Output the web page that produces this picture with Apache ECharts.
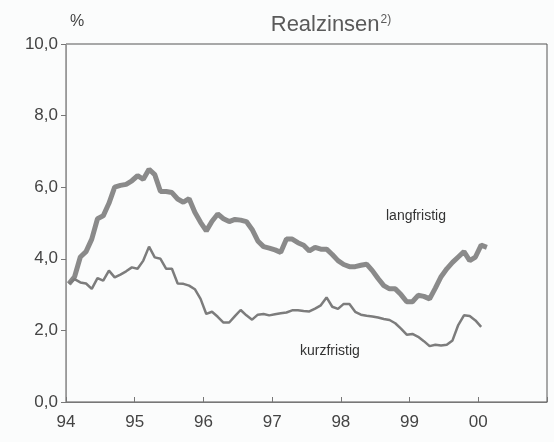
<!DOCTYPE html>
<html>
<head>
<meta charset="utf-8">
<script src="https://cdn.jsdelivr.net/npm/echarts@6/dist/echarts.min.js"></script>
<style>
  html, body { margin: 0; padding: 0; background: #fbfcfc; }
  #chart { width: 554px; height: 442px; }
</style>
</head>
<body>
<div id="chart"></div>
<script>
// monthly values, Jan 1994 onwards
var startYear = 1994
var yearTicks = ['94', '95', '96', '97', '98', '99', '00']
var langfristig = [
  3.30, 3.50, 4.05, 4.20, 4.55, 5.12, 5.20, 5.55, 6.00, 6.05, 6.08, 6.18,
  6.32, 6.22, 6.50, 6.35, 5.88, 5.88, 5.85, 5.67, 5.58, 5.68, 5.30, 5.02,
  4.78, 5.05, 5.25, 5.12, 5.04, 5.10, 5.08, 5.04, 4.82, 4.50, 4.34, 4.30,
  4.25, 4.18, 4.55, 4.55, 4.45, 4.38, 4.22, 4.32, 4.27, 4.27, 4.12, 3.95,
  3.84, 3.78, 3.78, 3.82, 3.85, 3.67, 3.45, 3.25, 3.16, 3.16, 3.00, 2.80,
  2.80, 2.98, 2.95, 2.88, 3.18, 3.50, 3.72, 3.90, 4.05, 4.20, 3.95, 4.05,
  4.38, 4.32
]
var kurzfristig = [
  3.30, 3.43, 3.34, 3.31, 3.16, 3.46, 3.39, 3.67, 3.48, 3.56, 3.65, 3.76,
  3.72, 3.95, 4.34, 4.04, 4.00, 3.72, 3.72, 3.31, 3.30, 3.25, 3.15, 2.88,
  2.46, 2.52, 2.38, 2.22, 2.22, 2.40, 2.57, 2.42, 2.30, 2.44, 2.46, 2.42,
  2.45, 2.48, 2.50, 2.56, 2.56, 2.54, 2.53, 2.61, 2.70, 2.92, 2.66, 2.60,
  2.74, 2.74, 2.52, 2.44, 2.41, 2.39, 2.36, 2.32, 2.29, 2.20, 2.05, 1.88,
  1.90, 1.82, 1.70, 1.56, 1.60, 1.58, 1.60, 1.72, 2.15, 2.42, 2.40, 2.28,
  2.10
]

function toPoints(arr) {
  return arr.map(function (v, i) { return [startYear + (i + 0.5) / 12, v] })
}

var chart = echarts.init(document.getElementById('chart'))
var option = {
  backgroundColor: '#fbfcfc',
  animation: false,
  textStyle: { fontFamily: 'Liberation Sans, Arial, sans-serif' },
  title: [{
    text: '{a|Realzinsen}{b|2)}',
    left: 326,
    top: 9,
    textAlign: 'center',
    textStyle: {
      fontWeight: 'normal',
      rich: {
        a: { fontSize: 22, color: '#5a5a5a', fontWeight: 'normal', fontFamily: 'Liberation Sans' },
        b: { fontSize: 12, color: '#5a5a5a', fontWeight: 'normal', verticalAlign: 'top', padding: [0, 0, 10, 1], fontFamily: 'Liberation Sans' }
      }
    }
  }, {
    text: '%',
    left: 72,
    top: 9,
    textAlign: 'center',
    textStyle: { fontSize: 16, fontWeight: 'normal', color: '#444' }
  }],
  grid: {
    left: 66, right: 7, top: 44, bottom: 40,
    show: true, borderColor: '#555', borderWidth: 1
  },
  xAxis: {
    type: 'value',
    min: 1994,
    max: 2001,
    interval: 1,
    axisLine: { lineStyle: { color: '#777' } },
    axisTick: { inside: true, length: 5, lineStyle: { color: '#777' } },
    splitLine: { show: false },
    axisLabel: {
      fontSize: 17,
      color: '#444',
      margin: 12,
      formatter: function (v) { return yearTicks[v - startYear] || '' }
    }
  },
  yAxis: {
    type: 'value',
    min: 0,
    max: 10,
    interval: 2,
    axisLine: { show: true, lineStyle: { color: '#999' } },
    axisTick: { show: true, length: 5, lineStyle: { color: '#777' } },
    splitLine: { show: false },
    axisLabel: {
      fontSize: 17,
      color: '#444',
      margin: 8,
      formatter: function (v) { return v.toFixed(1).replace('.', ',') }
    }
  },
  series: [{
    name: 'langfristig',
    type: 'line',
    data: toPoints(langfristig),
    showSymbol: false,
    lineStyle: { color: '#8a8a8a', width: 5 }
  }, {
    name: 'kurzfristig',
    type: 'line',
    data: toPoints(kurzfristig),
    showSymbol: false,
    lineStyle: { color: '#7c7c7c', width: 2.5 }
  }],
  graphic: [{
    type: 'text', left: 386, top: 209,
    style: { text: 'langfristig', fontSize: 14, fill: '#333', fontFamily: 'Liberation Sans' }
  }, {
    type: 'text', left: 300, top: 344,
    style: { text: 'kurzfristig', fontSize: 14, fill: '#333', fontFamily: 'Liberation Sans' }
  }]
}
option && chart.setOption(option)
</script>
</body>
</html>
